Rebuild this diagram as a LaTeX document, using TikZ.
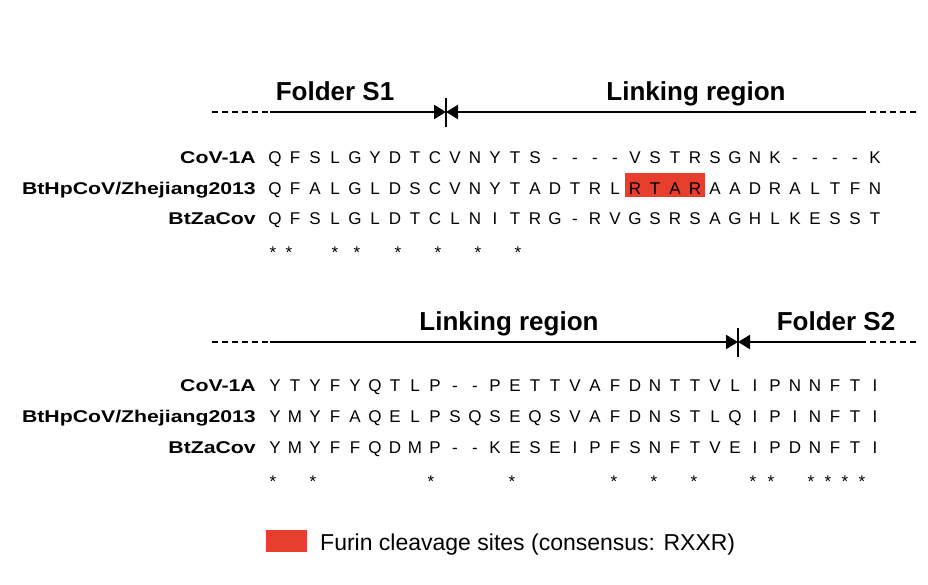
\documentclass[tikz,border=0pt]{standalone}
\usepackage{fontspec}
\setmainfont{Liberation Sans}
\newfontfamily\widefont[FakeStretch=1.25]{Liberation Sans}
\usetikzlibrary{arrows.meta}
\definecolor{furin}{RGB}{231,62,46}
\tikzstyle{residue}=[inner sep=0pt,anchor=base,font=\fontsize{17}{17}\selectfont]
\tikzstyle{seqname}=[inner sep=0pt,anchor=base east,font=\fontsize{17}{17}\widefont\bfseries]
\tikzstyle{region}=[inner sep=0pt,anchor=base,font=\fontsize{26}{26}\selectfont\bfseries]
\tikzstyle{rimline}=[line width=2.2pt,dash pattern=on 6pt off 4pt]
\tikzstyle{spanline}=[line width=2.2pt,-{Triangle[length=12pt,width=14pt]}]

\begin{document}
\begin{tikzpicture}[x=1pt,y=-1pt]
	\useasboundingbox (0,0) rectangle (928,584);
	
	% top block
	\coordinate (tl) at (212,112);
	\coordinate (ta) at (270,112);
	\coordinate (tm) at (446,112);
	\coordinate (tb) at (860,112);
	\coordinate (tr) at (918,112);
	\draw[rimline] (tl) -- (ta);
	\draw[rimline] (tb) -- (tr);
	\draw[spanline] (ta) -- (tm);
	\draw[spanline] (tb) -- (tm);
	\draw[line width=1.5pt] (446,98) -- (446,127);
	\node[region] (s1) at (335,100) {Folder S1};
	\node[region] (link1) at (696,100) {Linking region};
	
	\fill[furin] (625,173) rectangle (705,197);
	
	\node[seqname] (n1) at (256,163) {CoV-1A};
	\node[seqname] (n2) at (256,194) {BtHpCoV/Zhejiang2013};
	\node[seqname] (n3) at (256,224) {BtZaCov};
	\foreach \a [count=\i from 0] in {Q,F,S,L,G,Y,D,T,C,V,N,Y,T,S,-,-,-,-,V,S,T,R,S,G,N,K,-,-,-,-,K}
		\node[residue] (a\i) at (275+20*\i,163) {\a};
	\foreach \a [count=\i from 0] in {Q,F,A,L,G,L,D,S,C,V,N,Y,T,A,D,T,R,L,R,T,A,R,A,A,D,R,A,L,T,F,N}
		\node[residue] (b\i) at (275+20*\i,194) {\a};
	\foreach \a [count=\i from 0] in {Q,F,S,L,G,L,D,T,C,L,N,I,T,R,G,-,R,V,G,S,R,S,A,G,H,L,K,E,S,S,T}
		\node[residue] (c\i) at (275+20*\i,224) {\a};
	\foreach \x/\i in {273/0,289/1,335/3,357/4,398/6,438/8,478/10,518/12}
		\node[residue] (s\i) at (\x,258) {*};
	
	% bottom block
	\coordinate (bl) at (212,342);
	\coordinate (ba) at (270,342);
	\coordinate (bm) at (738,342);
	\coordinate (bb) at (860,342);
	\coordinate (br) at (918,342);
	\draw[rimline] (bl) -- (ba);
	\draw[rimline] (bb) -- (br);
	\draw[spanline] (ba) -- (bm);
	\draw[spanline] (bb) -- (bm);
	\draw[line width=1.5pt] (738,328) -- (738,357);
	\node[region] (link2) at (509,330) {Linking region};
	\node[region] (s2) at (836,330) {Folder S2};
	
	\node[seqname] (m1) at (256,391) {CoV-1A};
	\node[seqname] (m2) at (256,422) {BtHpCoV/Zhejiang2013};
	\node[seqname] (m3) at (256,453) {BtZaCov};
	\foreach \a [count=\i from 0] in {Y,T,Y,F,Y,Q,T,L,P,-,-,P,E,T,T,V,A,F,D,N,T,T,V,L,I,P,N,N,F,T,I}
		\node[residue] (d\i) at (275+20*\i,391) {\a};
	\foreach \a [count=\i from 0] in {Y,M,Y,F,A,Q,E,L,P,S,Q,S,E,Q,S,V,A,F,D,N,S,T,L,Q,I,P,I,N,F,T,I}
		\node[residue] (e\i) at (275+20*\i,422) {\a};
	\foreach \a [count=\i from 0] in {Y,M,Y,F,F,Q,D,M,P,-,-,K,E,S,E,I,P,F,S,N,F,T,V,E,I,P,D,N,F,T,I}
		\node[residue] (f\i) at (275+20*\i,453) {\a};
	\foreach \x/\i in {273/0,313/2,431/8,512/12,614/17,654/19,694/21,753/24,771/25,811/27,828/28,845/29,862/30}
		\node[residue] (t\i) at (\x,487) {*};
	
	% legend
	\fill[furin] (266,530) rectangle (307,552) coordinate (key);
	\node[inner sep=0pt,anchor=base west,font=\fontsize{23}{23}\selectfont] (keytext) at (320,550) {Furin cleavage sites (consensus: RXXR)};
\end{tikzpicture}
\end{document}
